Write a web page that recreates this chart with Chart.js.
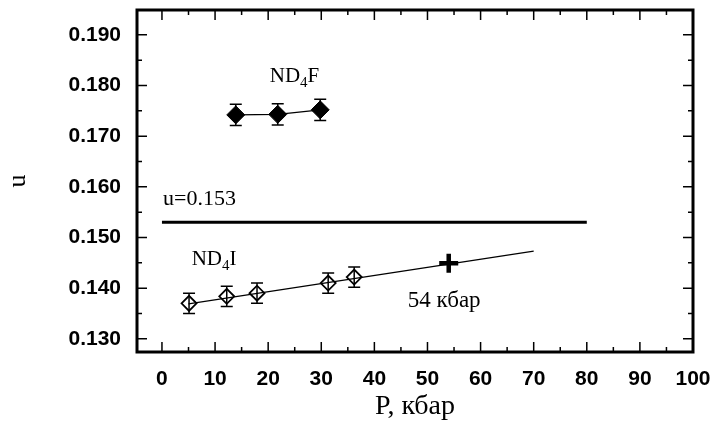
<!DOCTYPE html>
<html><head><meta charset="utf-8">
<script src="https://cdn.jsdelivr.net/npm/chart.js@4"></script>
<style>html,body{margin:0;padding:0;background:#fff}</style>
</head><body>
<canvas id="c" width="711" height="424"></canvas>
<script>
// Data
const nd4fP = [13.9, 21.8, 29.8];
const nd4fU = [0.1742, 0.1743, 0.1752];
const nd4fErr = [0.0021, 0.0021, 0.0021];
const nd4iP = [5.1, 12.2, 17.9, 31.3, 36.2];
const nd4iU = [0.1370, 0.1384, 0.1390, 0.1410, 0.1422];
const nd4iErr = [0.002, 0.002, 0.002, 0.002, 0.002];
const crossP = [54];
const crossU = [0.1449];
const fitP = [5, 70];
const fitU = [0.1369, 0.1473];
const refP = [0, 80];
const refU = [0.153, 0.153];
const xTicks = [0, 10, 20, 30, 40, 50, 60, 70, 80, 90, 100];
const xMinor = [5, 15, 25, 35, 45, 55, 65, 75, 85, 95];
const yTicks = [0.130, 0.140, 0.150, 0.160, 0.170, 0.180, 0.190];
const yMinor = [0.135, 0.145, 0.155, 0.165, 0.175, 0.185];

const pts = (P, U) => P.map((p, i) => ({x: p, y: U[i]}));

const notes = [
  {x: 0.2, y: 0.15645, size: 22, parts: [['u=0.153', false]]},
  {x: 20.3, y: 0.18072, size: 21, parts: [['ND', false], ['4', true], ['F', false]]},
  {x: 5.6, y: 0.14461, size: 21, parts: [['ND', false], ['4', true], ['I', false]]},
  {x: 46.3, y: 0.13632, size: 23, parts: [['54 кбар', false]]}
];

const deco = {
  id: 'deco',
  afterDatasetsDraw(chart) {
    const {ctx, chartArea: a, scales: {x, y}} = chart;
    ctx.save();
    ctx.strokeStyle = '#000';
    ctx.lineWidth = 1.5;
    const bars = (P, U, E) => P.forEach((p, i) => {
      const px = x.getPixelForValue(p);
      const y1 = y.getPixelForValue(U[i] - E[i]);
      const y2 = y.getPixelForValue(U[i] + E[i]);
      ctx.beginPath();
      ctx.moveTo(px, y1); ctx.lineTo(px, y2);
      ctx.moveTo(px - 6, y1); ctx.lineTo(px + 6, y1);
      ctx.moveTo(px - 6, y2); ctx.lineTo(px + 6, y2);
      ctx.stroke();
    });
    bars(nd4fP, nd4fU, nd4fErr);
    bars(nd4iP, nd4iU, nd4iErr);

    // inward ticks on all four sides
    ctx.lineWidth = 1.5;
    ctx.beginPath();
    const xt = (vals, len) => vals.forEach(v => {
      const px = x.getPixelForValue(v);
      ctx.moveTo(px, a.bottom); ctx.lineTo(px, a.bottom - len);
      ctx.moveTo(px, a.top); ctx.lineTo(px, a.top + len);
    });
    const yt = (vals, len) => vals.forEach(v => {
      const py = y.getPixelForValue(v);
      ctx.moveTo(a.left, py); ctx.lineTo(a.left + len, py);
      ctx.moveTo(a.right, py); ctx.lineTo(a.right - len, py);
    });
    xt(xTicks, 10); xt(xMinor, 5);
    yt(yTicks, 10); yt(yMinor, 5);
    ctx.stroke();

    // frame
    ctx.lineWidth = 3;
    ctx.strokeRect(a.left, a.top, a.right - a.left, a.bottom - a.top);

    // text notes
    ctx.fillStyle = '#000';
    ctx.textBaseline = 'alphabetic';
    ctx.textAlign = 'left';
    notes.forEach(n => {
      let px = x.getPixelForValue(n.x);
      const py = y.getPixelForValue(n.y);
      n.parts.forEach(([t, sub]) => {
        ctx.font = (sub ? Math.round(n.size * 0.72) : n.size) + 'px "Liberation Serif"';
        ctx.fillText(t, px, sub ? py + 5 : py);
        px += ctx.measureText(t).width;
      });
    });
    ctx.restore();
  }
};

const noPad = s => { s.paddingTop = 0; s.paddingBottom = 0; s.paddingLeft = 0; s.paddingRight = 0; };

new Chart(document.getElementById('c'), {
  type: 'scatter',
  data: {
    datasets: [
      {type: 'line', data: pts(refP, refU), borderColor: '#000', borderWidth: 3, pointRadius: 0},
      {type: 'line', data: pts(fitP, fitU), borderColor: '#000', borderWidth: 1.2, pointRadius: 0},
      {type: 'line', data: pts(nd4fP, nd4fU), borderColor: '#000', borderWidth: 1.2,
        pointStyle: 'rectRot', pointRadius: 9, pointBackgroundColor: '#000', pointBorderColor: '#000', pointBorderWidth: 1},
      {data: pts(nd4iP, nd4iU), pointStyle: 'rectRot', pointRadius: 7.5,
        pointBackgroundColor: '#fff', pointBorderColor: '#000', pointBorderWidth: 1.8},
      {data: pts(crossP, crossU), pointStyle: 'cross', pointRadius: 9.5,
        pointBorderColor: '#000', pointBorderWidth: 4.5}
    ]
  },
  options: {
    responsive: false,
    animation: false,
    devicePixelRatio: 1,
    layout: {autoPadding: false, padding: {top: 10, right: 18, left: 0, bottom: 0}},
    plugins: {legend: {display: false}, tooltip: {enabled: false}},
    scales: {
      x: {
        type: 'linear', position: 'bottom', min: -4.7, max: 100,
        grid: {display: false, drawTicks: false},
        border: {display: false},
        afterBuildTicks: s => { s.ticks = xTicks.map(v => ({value: v})); },
        afterFit: s => { s.height = 72; noPad(s); },
        ticks: {color: '#000', font: {family: 'Liberation Sans', size: 21, weight: 'bold'}, padding: 15,
          maxRotation: 0, autoSkip: false},
        title: {display: true, text: 'P, кбар', color: '#000',
          font: {family: 'Liberation Serif', size: 28}, padding: {top: 0, bottom: 1}}
      },
      y: {
        type: 'linear', min: 0.1274, max: 0.1949,
        grid: {display: false, drawTicks: false},
        border: {display: false},
        afterBuildTicks: s => { s.ticks = yTicks.map(v => ({value: v})); },
        afterFit: s => { s.width = 137; noPad(s); },
        ticks: {color: '#000', font: {family: 'Liberation Sans', size: 21, weight: 'bold'}, padding: 16,
          callback: v => v.toFixed(3)},
        title: {display: true, text: 'u', color: '#000',
          font: {family: 'Liberation Serif', size: 26}, padding: {top: 3, bottom: 0}}
      }
    }
  },
  plugins: [deco]
});
</script>
</body></html>
